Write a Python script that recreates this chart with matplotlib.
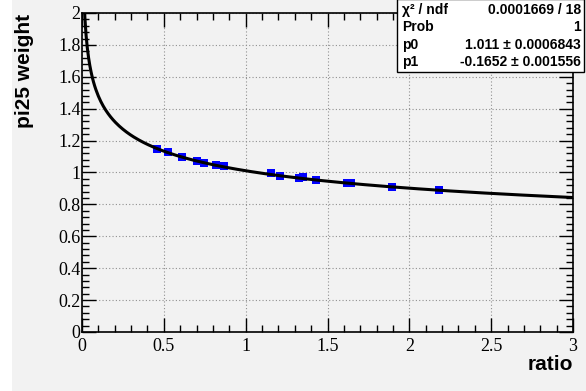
import numpy as np
import matplotlib.pyplot as plt
from matplotlib.ticker import MultipleLocator, FormatStrFormatter
from matplotlib.patches import Rectangle

# points
ratio = [0.456, 0.527, 0.613, 0.701, 0.747, 0.819, 0.867, 1.155, 1.210,
         1.326, 1.352, 1.428, 1.617, 1.643, 1.896, 2.181]
weight = [1.145, 1.126, 1.097, 1.072, 1.061, 1.047, 1.038, 0.999, 0.980,
          0.963, 0.970, 0.954, 0.937, 0.937, 0.909, 0.888]

# fit result shown in the stats box: p0 * x^p1
p0, p1 = 1.011, -0.1652
stat_names = ['\u03c7\u00b2 / ndf', 'Prob', 'p0', 'p1']
stat_values = ['0.0001669 / 18', '1', '1.011 \u00b1 0.0006843', '-0.1652 \u00b1 0.001556']

bg = '#f2f2f2'
W, H = 586, 391

fig = plt.figure(figsize=(W / 100, H / 100), dpi=100, facecolor='white')
fig.patches.append(Rectangle((12 / W, 0), 1 - 12 / W, 1, transform=fig.transFigure,
                             facecolor=bg, edgecolor='none', zorder=-10))
ax = fig.add_axes([82 / W, 1 - 332 / H, (573 - 82) / W, (332 - 13) / H])
ax.set_facecolor(bg)

xf = np.linspace(0.01, 3, 400)
ax.plot(ratio, weight, 's', color='#0000ff', markersize=5.8, markeredgewidth=0, zorder=3)
ax.plot(xf, p0 * xf ** p1, color='black', lw=2.2, zorder=4)

ax.set_xlim(0, 3)
ax.set_ylim(0, 2)
ax.xaxis.set_major_locator(MultipleLocator(0.5))
ax.xaxis.set_minor_locator(MultipleLocator(0.1))
ax.yaxis.set_major_locator(MultipleLocator(0.2))
ax.yaxis.set_minor_locator(MultipleLocator(0.04))
ax.xaxis.set_major_formatter(FormatStrFormatter('%g'))
ax.yaxis.set_major_formatter(FormatStrFormatter('%g'))
ax.tick_params(which='both', direction='in', top=True, right=True, color='black',
               labelsize=13)
ax.tick_params(which='major', length=10, width=1)
ax.tick_params(which='minor', length=5, width=1)
for lab in ax.get_xticklabels() + ax.get_yticklabels():
    lab.set_family('Liberation Serif')
ax.tick_params(axis='x', pad=4)
ax.tick_params(axis='y', pad=1)
ax.grid(True, which='major', color='#909090', linestyle=(0, (1, 2)), linewidth=0.8)
for s in ax.spines.values():
    s.set_linewidth(1.2)

fig.text(573 / W, 1 - 365 / H, 'ratio', ha='right', va='center', fontsize=15,
         fontweight='bold', family='Liberation Sans')
fig.text(25 / W, 1 - 14 / H, 'pi25 weight', ha='center', va='top', rotation=90,
         fontsize=15, fontweight='bold', family='Liberation Sans')

# stats box
fig.patches.append(Rectangle((397 / W, 1 - 72 / H), (584 - 397) / W, 73 / H,
                             transform=fig.transFigure, facecolor='white',
                             edgecolor='black', linewidth=1, zorder=5))
for i, (n, v) in enumerate(zip(stat_names, stat_values)):
    yy = 1 - (10 + i * 17.3) / H
    fig.text(402 / W, yy, n, ha='left', va='center', fontsize=10, fontweight='bold',
             family='Liberation Sans', zorder=6)
    fig.text(581 / W, yy, v, ha='right', va='center', fontsize=10, fontweight='bold',
             family='Liberation Sans', zorder=6)

fig.savefig('out.png', dpi=100, facecolor=fig.get_facecolor())
